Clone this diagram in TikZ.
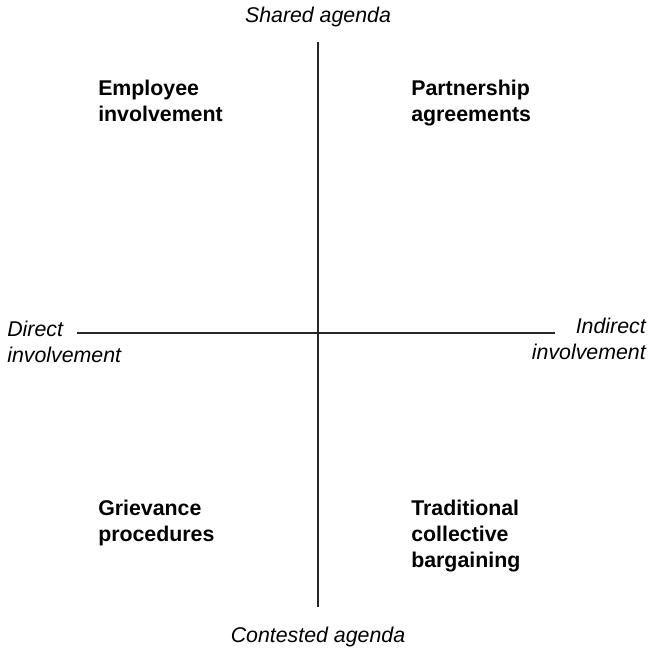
\documentclass[tikz,border=0pt]{standalone}
\usepackage{fontspec}
\setmainfont{Liberation Sans}
\begin{document}
\begin{tikzpicture}[x=0.75pt,y=-0.75pt,
  axis/.style={line width=1.1pt,black!85},
  lbl/.style={font=\fontsize{16}{20}\selectfont\itshape,inner sep=0pt,align=center},
  quad/.style={font=\fontsize{16}{19.5}\selectfont\bfseries,inner sep=0pt,align=left,anchor=north west}]
\useasboundingbox (0,0) rectangle (649,650);
\coordinate (top) at (318,42);
\coordinate (bot) at (318,607);
\coordinate (lft) at (77,333);
\coordinate (rgt) at (555,333);
\draw[axis] (top) -- (bot);
\draw[axis] (lft) -- (rgt);
\node[lbl] (shared) at (318,17) {Shared agenda};
\node[lbl] (contested) at (318,637) {Contested agenda};
\node[lbl,align=left,anchor=west] (direct) at (7,342) {Direct\\involvement};
\node[lbl,align=right,anchor=east] (indirect) at (646,339) {Indirect\\involvement};
\node[quad] (emp) at (98,80) {Employee\\involvement};
\node[quad] (part) at (411,80) {Partnership\\agreements};
\node[quad] (grie) at (98,500) {Grievance\\procedures};
\node[quad] (trad) at (411,500) {Traditional\\collective\\bargaining};
\end{tikzpicture}
\end{document}
